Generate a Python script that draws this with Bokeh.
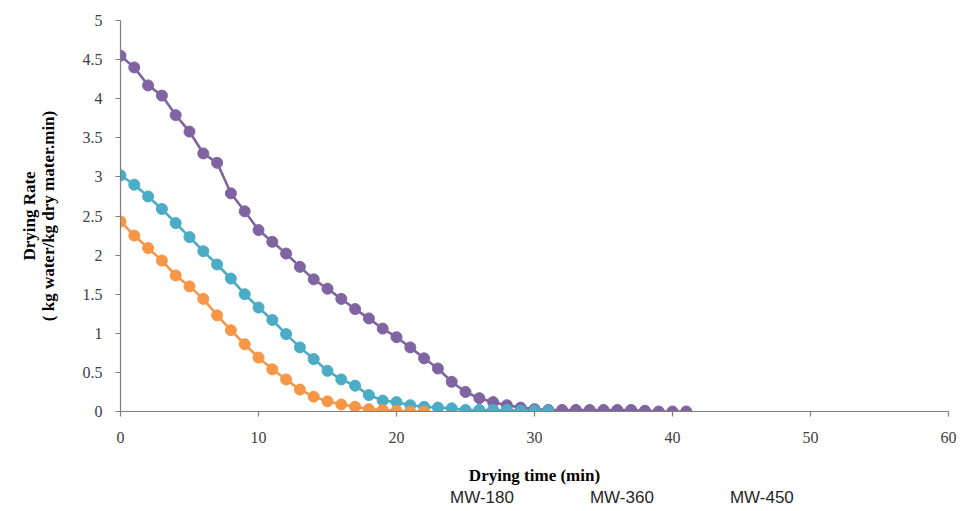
from bokeh.plotting import figure
from bokeh.layouts import column
from bokeh.models import Range1d, Legend, LegendItem, FixedTicker, NumeralTickFormatter, LinearAxis
from bokeh.embed import file_html
from bokeh.resources import INLINE

# Data
time_180 = list(range(0, 42))
rate_180 = [4.55, 4.40, 4.17, 4.04, 3.79, 3.58, 3.30, 3.18, 2.79, 2.56,
            2.32, 2.17, 2.02, 1.85, 1.69, 1.57, 1.44, 1.31, 1.19, 1.06,
            0.95, 0.82, 0.68, 0.55, 0.38, 0.25, 0.17, 0.12, 0.08, 0.05,
            0.03, 0.02, 0.02, 0.02, 0.02, 0.02, 0.02, 0.02, 0.01, 0.0, 0.0, 0.0]
time_360 = list(range(0, 32))
rate_360 = [3.02, 2.90, 2.75, 2.59, 2.41, 2.23, 2.05, 1.88, 1.70, 1.50,
            1.33, 1.17, 0.99, 0.82, 0.67, 0.52, 0.41, 0.33, 0.21, 0.14,
            0.12, 0.08, 0.06, 0.05, 0.04, 0.02, 0.02, 0.02, 0.02, 0.01,
            0.01, 0.01]
time_450 = list(range(0, 23))
rate_450 = [2.43, 2.25, 2.09, 1.93, 1.74, 1.60, 1.44, 1.23, 1.04, 0.86,
            0.69, 0.54, 0.41, 0.28, 0.19, 0.13, 0.09, 0.06, 0.03, 0.02,
            0.01, 0.0, 0.0]

series_names = ["MW-180", "MW-360", "MW-450"]
series_colors = ["#8064A2", "#4BACC6", "#F79646"]
x_ticks = [0, 10, 20, 30, 40, 50, 60]
y_ticks = [0, 0.5, 1, 1.5, 2, 2.5, 3, 3.5, 4, 4.5, 5]

p = figure(frame_width=828, frame_height=391, output_backend="svg", toolbar_location=None,
           x_range=Range1d(0, 60), y_range=Range1d(0, 5),
           min_border_left=120, min_border_right=12, min_border_top=20, min_border_bottom=0)
p.outline_line_color = None
p.xgrid.grid_line_color = None
p.ygrid.grid_line_color = None
p.background_fill_color = "white"
p.border_fill_color = "white"

axis_color = "#7f7f7f"
for ax in (p.xaxis[0], p.yaxis[0]):
    ax.axis_line_color = axis_color
    ax.axis_line_width = 1.2
    ax.major_tick_line_color = axis_color
    ax.major_tick_line_width = 1.2
    ax.major_tick_out = 5
    ax.major_tick_in = 0
    ax.minor_tick_line_color = None
    ax.major_label_text_font = "Liberation Serif"
    ax.major_label_text_font_size = "16px"
    ax.major_label_text_color = "#404040"
    ax.axis_label_text_font = "Liberation Serif"
    ax.axis_label_text_font_style = "bold"
    ax.axis_label_text_font_size = "17px"
    ax.axis_label_text_color = "#000000"

p.xaxis.ticker = FixedTicker(ticks=x_ticks)
p.yaxis.ticker = FixedTicker(ticks=y_ticks)
p.yaxis.formatter = NumeralTickFormatter(format="0.[0]")
p.xaxis.major_label_standoff = 15
p.yaxis.major_label_standoff = 13
p.xaxis.axis_label = "Drying time (min)"
p.xaxis.axis_label_standoff = 20
p.yaxis.axis_label = "( kg water/kg dry mater.min)"
p.yaxis.axis_label_standoff = 22

# outer axis carrying only the first line of the y title
outer = LinearAxis(ticker=FixedTicker(ticks=y_ticks), axis_line_color=None,
                   major_tick_line_color=None, minor_tick_line_color=None,
                   major_tick_out=0, major_tick_in=0, major_label_standoff=0,
                   major_label_text_font_size="0px", major_label_text_alpha=0,
                   axis_label="Drying Rate", axis_label_standoff=-3,
                   axis_label_text_font="Liberation Serif", axis_label_text_font_style="bold",
                   axis_label_text_font_size="17px", axis_label_text_color="#000000")
p.add_layout(outer, "left")

for xs, ys, color in zip([time_180, time_360, time_450],
                         [rate_180, rate_360, rate_450], series_colors):
    p.line(xs, ys, line_color=color, line_width=2.6)
    p.scatter(xs, ys, size=11, fill_color=color, line_color=color)

# Legend strip below the chart
p2 = figure(width=960, height=22, output_backend="svg", toolbar_location=None,
            x_axis_type=None, y_axis_type=None, min_border=0,
            x_range=Range1d(0, 1), y_range=Range1d(0, 1))
p2.outline_line_color = None
p2.background_fill_color = "white"
p2.border_fill_color = "white"

items = []
for name, color in zip(series_names, series_colors):
    ln = p2.line(x=[], y=[], line_color=color, line_width=2.6)
    sc = p2.scatter(x=[], y=[], size=11, fill_color=color, line_color=color)
    items.append(LegendItem(label=name, renderers=[ln, sc]))

legend = Legend(items=items, orientation="horizontal", location=(282, 1),
                glyph_width=40, glyph_height=16, label_standoff=8, spacing=28,
                padding=0, margin=0, border_line_color=None, background_fill_alpha=0,
                label_text_font="Liberation Sans", label_text_font_size="17px",
                label_text_color="#262626", label_height=16)
p2.add_layout(legend)

layout = column(p, p2, spacing=0)
open("out.html", "w").write(file_html(layout, INLINE))
